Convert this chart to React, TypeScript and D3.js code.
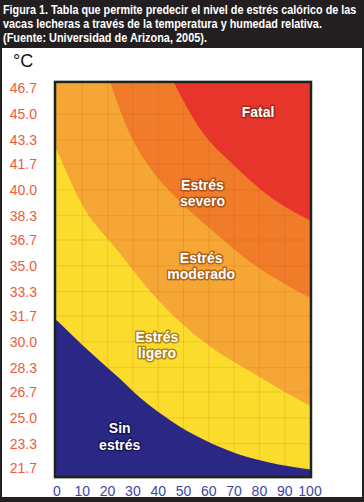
import * as d3 from "d3";
import { useEffect, useRef } from "react";

// humedad relativa (%) y temperatura (°C)
const humedadTicks = [0, 10, 20, 30, 40, 50, 60, 70, 80, 90, 100];
const temperaturaTicks = [46.7, 45.0, 43.3, 41.7, 40.0, 38.3, 36.7, 35.0, 33.3, 31.7, 30.0, 28.3, 26.7, 25.0, 23.3, 21.7];

// upper limit of each zone, [humedad, temperatura]
const limiteSinEstres = [[0, 31.4], [10, 29.8], [24, 27.7], [33, 26.3], [46, 24.7], [67, 22.9], [100, 21.6]];
const limiteLigero = [[0, 42.6], [10, 39.0], [24, 36.0], [37, 33.3], [50, 31.1], [63, 29.4], [76, 28.1], [89, 26.8], [100, 25.8]];
const limiteModerado = [[21, 47.1], [29, 43.6], [37, 41.4], [50, 39.0], [63, 37.1], [76, 35.3], [89, 33.9], [100, 32.9]];
const limiteSevero = [[46, 47.1], [57, 43.9], [70, 41.6], [83, 39.7], [100, 38.0]];

const titulo = [
  "Figura 1. Tabla que permite predecir el nivel de estrés calórico de las",
  "vacas lecheras a través de la temperatura y humedad relativa.",
  "(Fuente: Universidad de Arizona, 2005).",
];

const W = 364;
const H = 502;

const App = () => {
  const svgRef = useRef(null);

  useEffect(() => {
    const svg = d3.select(svgRef.current);
    svg.selectAll("*").remove();

    // frame
    svg.append("rect").attr("width", W).attr("height", H).attr("fill", "#231f20");
    svg.append("rect").attr("x", 2).attr("y", 48).attr("width", 360).attr("height", 449).attr("fill", "#ffffff");

    // title, squeezed to the narrow print face
    const lens = [354, 319, 204];
    titulo.forEach((t, i) => {
      const g = svg.append("g");
      const txt = g.append("text")
        .attr("x", 0)
        .attr("y", 0)
        .attr("fill", "#ffffff")
        .style("font-family", "'Liberation Sans', Arial, sans-serif")
        .style("font-weight", "bold")
        .style("font-size", "13px")
        .text(t);
      const w = txt.node().getComputedTextLength() || lens[i];
      g.attr("transform", `translate(3,${13.5 + i * 14.2}) scale(${lens[i] / w},1)`);
    });

    svg.append("text")
      .attr("x", 13)
      .attr("y", 67)
      .attr("fill", "#151515")
      .style("font-family", "'Liberation Sans', Arial, sans-serif")
      .style("font-size", "18px")
      .text("°C");

    // scales
    const x = d3.scaleLinear().domain([0, 100]).range([57, 310]);
    const y = d3.scaleLinear().domain([21.7, 46.7]).range([468, 88]);

    const left = x(0) - 2;
    const right = x(100) + 1;
    const top = y(47.1);
    const bottom = y(21.1);

    const line = d3.line()
      .x((d) => x(d[0]))
      .y((d) => y(d[1]))
      .curve(d3.curveMonotoneX);

    const zonePath = (pts) => {
      const body = line(pts).slice(1);
      const first = pts[0];
      const last = pts[pts.length - 1];
      const start = first[0] <= 0 ? `M${left},${y(first[1])}L` : `M${left},${top}L`;
      return `${start}${body}L${right},${y(last[1])}L${right},${bottom}L${left},${bottom}Z`;
    };

    svg.append("clipPath").attr("id", "plot-clip")
      .append("rect")
      .attr("x", left).attr("y", top)
      .attr("width", right - left).attr("height", bottom - top);

    const plot = svg.append("g").attr("clip-path", "url(#plot-clip)");

    plot.append("rect")
      .attr("x", left).attr("y", top)
      .attr("width", right - left).attr("height", bottom - top)
      .attr("fill", "#e8352b");

    const zonas = [
      { pts: limiteSevero, color: "#f07b28" },
      { pts: limiteModerado, color: "#f6a634" },
      { pts: limiteLigero, color: "#fbdc2d" },
    ];
    plot.selectAll(".zona")
      .data(zonas)
      .join("path")
      .attr("class", "zona")
      .attr("d", (d) => zonePath(d.pts))
      .attr("fill", (d) => d.color);

    // faint print grid
    const grid = plot.append("g")
      .attr("stroke", "#b5520f")
      .attr("stroke-opacity", 0.16)
      .attr("stroke-width", 1);
    grid.selectAll(".gv")
      .data(humedadTicks.slice(1, -1))
      .join("line")
      .attr("x1", (d) => x(d)).attr("x2", (d) => x(d))
      .attr("y1", top).attr("y2", bottom);
    grid.selectAll(".gh")
      .data(temperaturaTicks.slice(1))
      .join("line")
      .attr("y1", (d) => y(d)).attr("y2", (d) => y(d))
      .attr("x1", left).attr("x2", right);

    plot.append("path")
      .attr("d", zonePath(limiteSinEstres))
      .attr("fill", "#2a2884");

    svg.append("rect")
      .attr("x", left).attr("y", top)
      .attr("width", right - left).attr("height", bottom - top)
      .attr("fill", "none")
      .attr("stroke", "#1d2420")
      .attr("stroke-width", 2.5);

    // axes labels
    svg.append("g")
      .selectAll("text")
      .data(temperaturaTicks)
      .join("text")
      .attr("x", 37)
      .attr("y", (d) => y(d))
      .attr("dy", "0.36em")
      .attr("text-anchor", "end")
      .attr("fill", "#ee5a3b")
      .style("font-family", "'Liberation Sans', Arial, sans-serif")
      .style("font-size", "14px")
      .text((d) => d.toFixed(1));

    svg.append("g")
      .selectAll("text")
      .data(humedadTicks)
      .join("text")
      .attr("x", (d) => x(d))
      .attr("y", 496)
      .attr("text-anchor", "middle")
      .attr("fill", "#3c45a6")
      .style("font-family", "'Liberation Sans', Arial, sans-serif")
      .style("font-size", "14px")
      .text((d) => d);

    // zone names
    const etiquetas = [
      { lines: ["Fatal"], h: 79.5, t: 44.8, halo: "#8f2313" },
      { lines: ["Estrés", "severo"], h: 57.5, t: 40.0, halo: "#9a4512" },
      { lines: ["Estrés", "moderado"], h: 57, t: 35.2, halo: "#9a4f12" },
      { lines: ["Estrés", "ligero"], h: 39.5, t: 30.0, halo: "#9a6a12" },
      { lines: ["Sin", "estrés"], h: 24.8, t: 24.0, halo: "#12104a" },
    ];
    etiquetas.forEach((e) => {
      const txt = svg.append("text")
        .attr("text-anchor", "middle")
        .attr("fill", "#ffffff")
        .attr("stroke", e.halo)
        .attr("stroke-width", 3)
        .attr("stroke-opacity", 0.75)
        .attr("stroke-linejoin", "round")
        .attr("paint-order", "stroke")
        .style("font-family", "'Liberation Sans', Arial, sans-serif")
        .style("font-weight", "bold")
        .style("font-size", "14px");
      e.lines.forEach((l, i) => {
        txt.append("tspan")
          .attr("x", x(e.h))
          .attr("y", y(e.t) + i * 16.5)
          .text(l);
      });
    });
  }, []);

  return (
    <svg
      ref={svgRef}
      width={W}
      height={H}
      style={{ position: "absolute", left: 0, top: 0, display: "block" }}
    />
  );
};

export default App;
